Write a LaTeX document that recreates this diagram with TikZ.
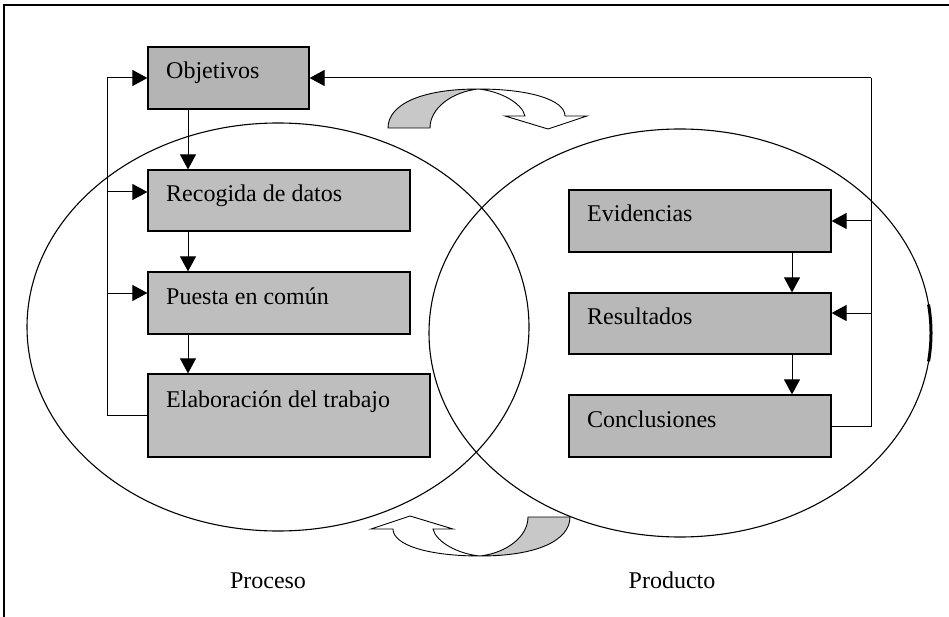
\documentclass[tikz,border=0pt]{standalone}
\usepackage{fontspec}
\setmainfont{Liberation Serif}
\usetikzlibrary{arrows.meta}
\definecolor{objgray}{RGB}{180,180,180}
\definecolor{lboxgray}{RGB}{190,190,190}
\definecolor{rboxgray}{RGB}{184,184,184}
\definecolor{twgray}{RGB}{200,200,200}
\newcommand{\twistarrow}{%
  \filldraw[fill=twgray, line width=0.9pt]
    (388,128) .. controls (388,105) and (420,89) .. (478,89)
    .. controls (452,92) and (430,108) .. (430,128) -- cycle;
  \filldraw[fill=white, line width=0.9pt]
    (478,89) .. controls (530,89) and (565,100) .. (565,116)
    -- (587,116) -- (548,129) -- (505,116) -- (525,116)
    .. controls (522,103) and (500,91) .. (478,89) -- cycle;
}
\tikzset{
  box/.style={draw, line width=1.2pt, inner sep=0pt},
  lbl/.style={anchor=base west, inner sep=0pt, font=\fontsize{24}{28}\selectfont},
  captxt/.style={anchor=base, inner sep=0pt, font=\fontsize{24}{28}\selectfont},
  conn/.style={line width=1pt},
  arr/.style={line width=1pt, -{Triangle[length=15pt,width=16pt]}},
  oval/.style={line width=1.1pt}
}
\begin{document}
\begin{tikzpicture}[x=1pt,y=-1pt]
\useasboundingbox (0,0) rectangle (949,617);
% frame
\draw[line width=1.3pt] (949,5) -- (4,5) -- (4,617);
% ellipses
\draw[oval] (278,327) ellipse [x radius=251, y radius=204];
\draw[oval] (680,333) ellipse [x radius=251, y radius=204];
\draw[line width=3pt] (680,333) ++(-8:251 and 204) arc [start angle=-8, end angle=8, x radius=251, y radius=204];
% twisted arrows
\twistarrow
\begin{scope}[rotate around={180:(479,322.5)}]
\twistarrow
\end{scope}
% boxes
\node[box, fill=objgray, minimum width=161pt, minimum height=62pt] (obj) at (228.5,78) {};
\node[box, fill=lboxgray, minimum width=262pt, minimum height=61pt] (rec) at (279,200.5) {};
\node[box, fill=lboxgray, minimum width=262pt, minimum height=62pt] (pue) at (279,303) {};
\node[box, fill=lboxgray, minimum width=282pt, minimum height=83pt] (ela) at (289,415.5) {};
\node[box, fill=rboxgray, minimum width=262pt, minimum height=62pt] (evi) at (700,221) {};
\node[box, fill=rboxgray, minimum width=262pt, minimum height=61pt] (res) at (700,323.5) {};
\node[box, fill=rboxgray, minimum width=262pt, minimum height=62pt] (con) at (700,426) {};
% labels
\node[lbl] (tobj) at (166,79) {Objetivos};
\node[lbl] (trec) at (166,202) {Recogida de datos};
\node[lbl] (tpue) at (166,304) {Puesta en común};
\node[lbl] (tela) at (166,407) {Elaboración del trabajo};
\node[lbl] (tevi) at (587,222) {Evidencias};
\node[lbl] (tres) at (587,324) {Resultados};
\node[lbl] (tcon) at (587,427) {Conclusiones};
\node[captxt] (proc) at (268,588) {Proceso};
\node[captxt] (prod) at (672,588) {Producto};
% helper coordinates
\coordinate (lc) at (188,0);
\coordinate (rc) at (792,0);
\coordinate (lf) at (107,0);
\coordinate (rf) at (871,0);
\coordinate (y1) at (0,192);
\coordinate (y2) at (0,293);
\coordinate (y3) at (0,313);
% left column arrows
\draw[arr] (obj.south -| lc) -- (rec.north -| lc);
\draw[arr] (rec.south -| lc) -- (pue.north -| lc);
\draw[arr] (pue.south -| lc) -- (ela.north -| lc);
% left feedback
\draw[conn] (ela.west) -- (ela.west -| lf) -- (obj.west -| lf);
\draw[arr] (obj.west -| lf) -- (obj.west);
\draw[arr] (lf |- y1) -- (rec.west |- y1);
\draw[arr] (lf |- y2) -- (pue.west |- y2);
% right column arrows
\draw[arr] (evi.south -| rc) -- (res.north -| rc);
\draw[arr] (res.south -| rc) -- (con.north -| rc);
% right feedback
\draw[conn] (con.east) -- (con.east -| rf) -- (obj.east -| rf);
\draw[arr] (obj.east -| rf) -- (obj.east);
\draw[arr] (evi.east -| rf) -- (evi.east);
\draw[arr] (rf |- y3) -- (res.east |- y3);
\end{tikzpicture}
\end{document}
